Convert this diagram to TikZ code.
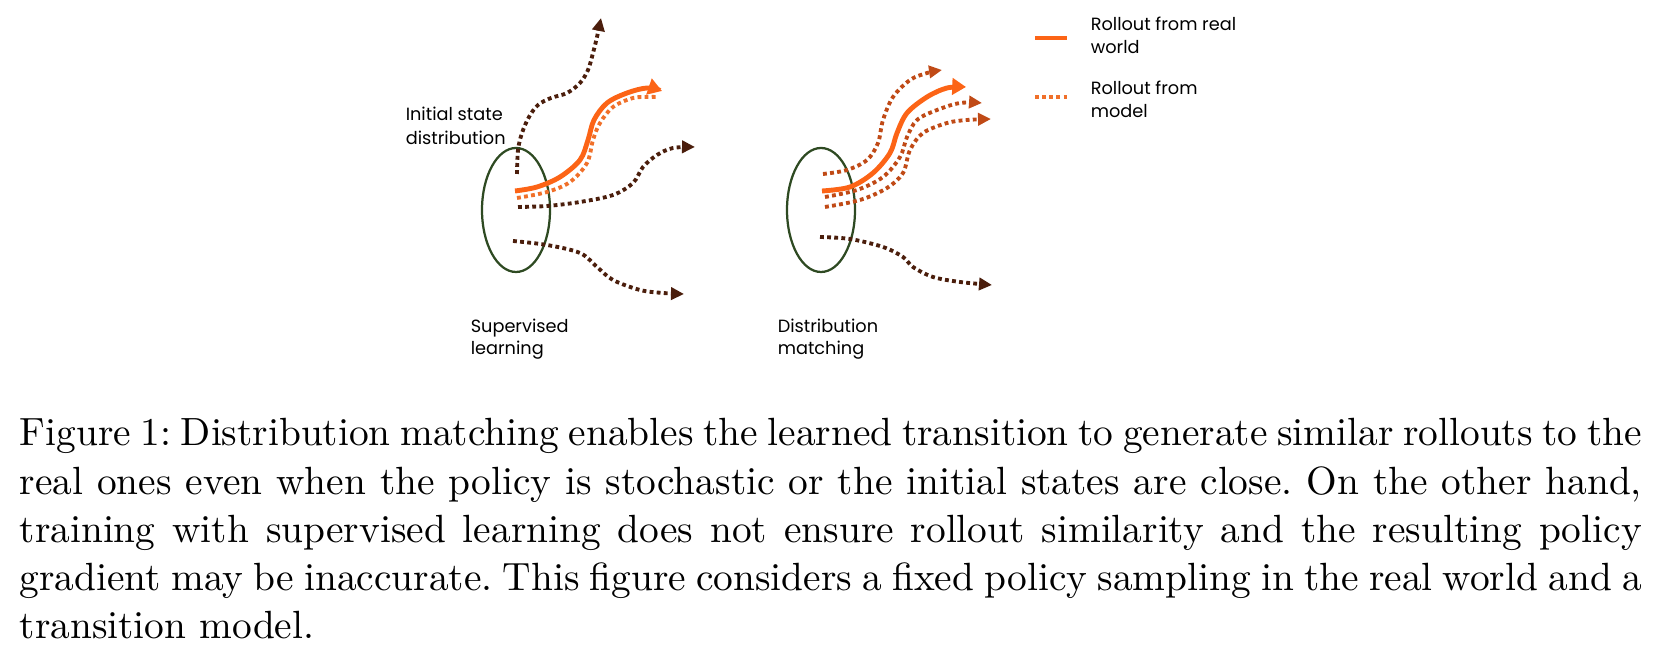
\documentclass[tikz,border=0pt]{standalone}
\usepackage{fontspec}
\newfontfamily\labelfont{Poppins}
\usetikzlibrary{arrows.meta}
\definecolor{realorange}{RGB}{252,100,22}
\definecolor{modelorange}{RGB}{240,112,42}
\definecolor{modelbrown}{RGB}{192,74,22}
\definecolor{darkbrown}{RGB}{75,30,12}
\definecolor{ellgreen}{RGB}{46,74,34}
\begin{document}
\begin{tikzpicture}[x=0.254pt,y=-0.254pt,
  dotline/.style={line width=0.98pt, dash pattern=on 0.98pt off 0.83pt},
  dottip/.style={-{Triangle[length=3.3pt,width=3.1pt]}},
  brownroll/.style={dotline, dottip, darkbrown},
  modelroll/.style={dotline, dottip, modelbrown},
  modelrollA/.style={dotline, modelorange},
  realroll/.style={line width=1.24pt, realorange, -{Triangle[length=3.5pt,width=4.15pt]}},
  initdist/.style={draw=ellgreen, line width=0.57pt},
  lbl/.style={font=\labelfont\fontsize{4.5}{6}\selectfont, inner sep=0pt, anchor=base west, text=black},
  smoothp/.style={smooth, tension=0.55}]
\useasboundingbox (0,0) rectangle (1663,654);

% ---------- left: supervised learning ----------
\draw[initdist] (516,210) ellipse [x radius=34, y radius=62];
\draw[brownroll] plot[smoothp] coordinates {(517,174) (518,150) (522,133) (529,117) (538,105) (551,98) (567,93) (580,83) (588,70) (593,53) (597,37) (601,18)};
\draw[modelrollA] plot[smoothp] coordinates {(517,198) (547,192) (570,182) (587,163) (593,140) (600,123) (613,107) (633,98) (650,97) (656,97)};
\draw[realroll] plot[smoothp] coordinates {(515,191) (537,187) (560,177) (580,160) (588,140) (594,120) (607,103) (627,93) (647,88) (662,91)};
\draw[brownroll] plot[smoothp] coordinates {(518,207) (547,206) (580,202) (613,195) (633,183) (643,167) (657,155) (673,148) (695,147)};
\draw[brownroll] plot[smoothp] coordinates {(513,241) (547,245) (580,253) (597,267) (613,280) (640,290) (663,293) (684,294)};

\node[lbl] (init1) at (405,121) {Initial state};
\node[lbl] (init2) at (405,145) {distribution};
\node[lbl] (sup1) at (470,333) {Supervised};
\node[lbl] (sup2) at (470,355) {learning};

% ---------- right: distribution matching ----------
\draw[initdist] (821,210) ellipse [x radius=34, y radius=62];
\draw[modelroll] plot[smoothp] coordinates {(823,174) (847,170) (867,160) (878,143) (883,120) (893,97) (910,80) (927,73) (942,70)};
\draw[modelroll] plot[smoothp] coordinates {(825,197) (857,190) (883,177) (900,157) (907,137) (917,120) (937,110) (960,103) (982,103)};
\draw[modelroll] plot[smoothp] coordinates {(825,207) (860,200) (887,188) (903,173) (910,150) (923,133) (947,123) (967,120) (991,119)};
\draw[realroll] plot[smoothp] coordinates {(822,191) (850,187) (873,173) (890,153) (897,133) (907,113) (927,97) (947,88) (966,87)};
\draw[brownroll] plot[smoothp] coordinates {(820,237) (850,239) (883,247) (903,257) (913,267) (933,277) (960,282) (992,285)};

\node[lbl] (dm1) at (777,333) {Distribution};
\node[lbl] (dm2) at (777,355) {matching};

% ---------- legend ----------
\coordinate (lgA1) at (1035,38);
\coordinate (lgA2) at (1067,38);
\coordinate (lgB1) at (1035,97);
\coordinate (lgB2) at (1067,97);
\draw[line width=1.24pt, realorange] (lgA1) -- (lgA2);
\draw[dotline, modelorange] (lgB1) -- (lgB2);
\node[lbl] (lg1) at (1090,31) {Rollout from real};
\node[lbl] (lg2) at (1090,54) {world};
\node[lbl] (lg3) at (1090,95) {Rollout from};
\node[lbl] (lg4) at (1090,118) {model};

% ---------- caption ----------
\node[anchor=base west, inner sep=0pt, text width=412pt, align=justify,
      font=\fontsize{10}{12.23}\selectfont\frenchspacing] (caption) at (19,446)
{Figure 1: Distribution matching enables the learned transition to generate similar rollouts to the\linebreak
real ones even when the policy is stochastic or the initial states are close. On the other hand,\linebreak
training with supervised learning does not ensure rollout similarity and the resulting policy\linebreak
gradient may be inaccurate. This figure considers a fixed policy sampling in the real world and a\linebreak
transition model.};
\end{tikzpicture}
\end{document}
